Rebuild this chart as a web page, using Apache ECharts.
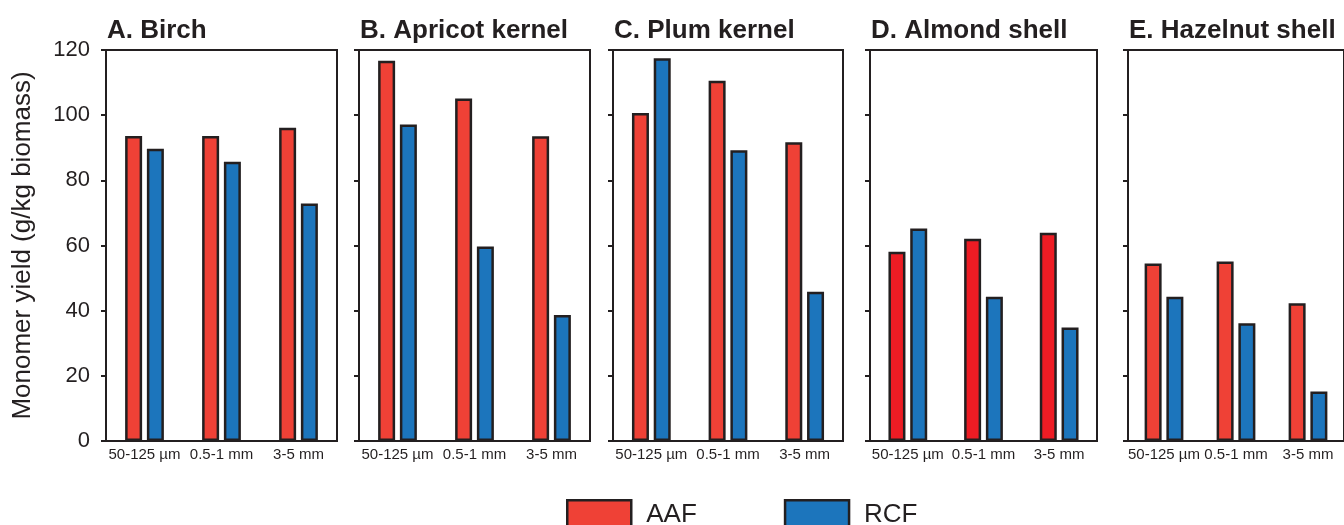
<!DOCTYPE html>
<html>
<head>
<meta charset="utf-8">
<script src="https://cdn.jsdelivr.net/npm/echarts@6/dist/echarts.min.js"></script>
<style>
html,body{margin:0;padding:0;background:#fff;}
#chart{width:1344px;height:525px;}
</style>
</head>
<body>
<div id="chart"></div>
<script>
// ---- data ----
const categories = ['50-125 µm', '0.5-1 mm', '3-5 mm'];
const panelTitles = ['A. Birch', 'B. Apricot kernel', 'C. Plum kernel', 'D. Almond shell', 'E. Hazelnut shell'];
const yTicks = [0, 20, 40, 60, 80, 100, 120];
const birchAAF = [93.6, 93.6, 96.1];
const birchRCF = [89.7, 85.7, 72.9];
const apricotAAF = [116.7, 105.1, 93.5];
const apricotRCF = [97.1, 59.7, 38.7];
const plumAAF = [100.7, 110.6, 91.7];
const plumRCF = [117.5, 89.2, 45.8];
const almondAAF = [58.1, 62.1, 63.9];
const almondRCF = [65.2, 44.3, 34.8];
const hazelAAF = [54.5, 55.1, 42.3];
const hazelRCF = [44.3, 36.1, 15.2];
const seriesNames = ['AAF', 'RCF'];

const aafData = [birchAAF, apricotAAF, plumAAF, almondAAF, hazelAAF];
const rcfData = [birchRCF, apricotRCF, plumRCF, almondRCF, hazelRCF];

// ---- layout / style ----
const gridLefts = [106, 359, 613, 870, 1128];
const gridWidths = [231, 231, 230, 227, 230];
const gridTop = 50, gridHeight = 391;
const ink = '#231f20';
const red = '#ef4136', redAlmond = '#ed1c24', blue = '#1c75bc';
const font = "'Liberation Sans', Arial, Helvetica, sans-serif";

const grids = [], xAxes = [], yAxes = [], series = [], titles = [];
for (let i = 0; i < 5; i++) {
  grids.push({left: gridLefts[i], top: gridTop, width: gridWidths[i], height: gridHeight,
    show: true, borderColor: ink, borderWidth: 2, containLabel: false});
  xAxes.push({type: 'category', gridIndex: i, data: categories,
    axisLine: {show: true, lineStyle: {color: ink, width: 2}},
    axisTick: {show: false},
    axisLabel: {color: ink, fontSize: 15, fontFamily: font, margin: 6, interval: 0}});
  yAxes.push({type: 'value', gridIndex: i, min: 0, max: 120, interval: 20,
    name: i === 0 ? 'Monomer yield (g/kg biomass)' : '',
    nameLocation: 'middle', nameGap: 70, nameRotate: 90,
    nameTextStyle: {color: ink, fontSize: 26, fontFamily: font},
    splitLine: {show: false},
    axisLine: {show: true, lineStyle: {color: ink, width: 2}},
    axisTick: {show: true, inside: false, length: 5, lineStyle: {color: ink, width: 2}},
    axisLabel: {show: i === 0, color: ink, fontSize: 22, fontFamily: font, margin: 16,
      padding: [0, 0, 4, 0],
      formatter: v => yTicks.includes(v) ? String(v) : ''}});
  series.push({name: seriesNames[0], type: 'bar', xAxisIndex: i, yAxisIndex: i,
    data: aafData[i], barWidth: 17, barGap: '28%',
    itemStyle: {color: i === 3 ? redAlmond : red, borderColor: ink, borderWidth: 2.5}});
  series.push({name: seriesNames[1], type: 'bar', xAxisIndex: i, yAxisIndex: i,
    data: rcfData[i], barWidth: 17, barGap: '28%',
    itemStyle: {color: blue, borderColor: ink, borderWidth: 2.5}});
  titles.push({text: panelTitles[i], left: gridLefts[i] + 1, top: 18,
    textStyle: {color: ink, fontSize: 26, fontWeight: 'bold', fontFamily: font}, padding: 0});
}

const chart = echarts.init(document.getElementById('chart'), null, {renderer: 'canvas'});
chart.setOption({
  animation: false,
  backgroundColor: '#fff',
  title: titles,
  grid: grids,
  xAxis: xAxes,
  yAxis: yAxes,
  series: series,
  legend: {
    data: [
      {name: 'AAF', itemStyle: {color: red, borderColor: ink, borderWidth: 2.5}},
      {name: 'RCF', itemStyle: {color: blue, borderColor: ink, borderWidth: 2.5}}
    ],
    left: 566, top: 499, padding: 0, icon: 'rect',
    itemWidth: 64, itemHeight: 30, itemGap: 87,
    textStyle: {color: ink, fontSize: 26, fontFamily: font, padding: [0, 0, 0, 10]}
  }
});
</script>
</body>
</html>
